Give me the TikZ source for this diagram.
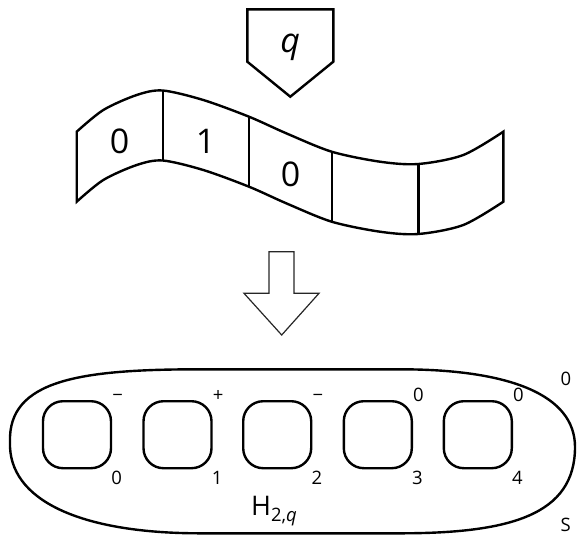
\documentclass[tikz,border=0pt]{standalone}
\usepackage{fontspec}
\setmainfont{Open Sans}
\usetikzlibrary{calc}
\tikzset{
  thick line/.style={line width=2.4pt, line join=miter},
  bigtxt/.style={inner sep=0pt, font=\fontsize{34}{40}\selectfont},
  smalltxt/.style={inner sep=0pt, font=\fontsize{18.5}{22}\selectfont},
  sqbox/.style={draw, line width=2.4pt, minimum width=68pt, minimum height=67pt, rounded corners=20pt, inner sep=0pt},
  bigarrow/.style={draw=black!85, line width=1.2pt, line join=miter}
}
\begin{document}
\begin{tikzpicture}[x=1pt,y=-1pt]
\useasboundingbox (0,0) rectangle (577,536);
% head pentagon
\draw[thick line] (247.3,9.3) -- (333.3,9.3) -- (333.3,61.7) -- (290.3,96.7) -- (247.3,61.7) -- cycle;
\node[bigtxt] (q) at (290.3,47.5) {\itshape q};
% tape
\draw[thick line] plot[smooth] coordinates {(76.7,131.7) (103.3,110) (136.7,95) (162.7,90.5) (203.3,100) (249,116.7) (286.7,133.5) (331.7,151.7) (380,161.7) (418.3,164) (463.3,155) (503.3,131.7)}
  -- plot[smooth] coordinates {(503.3,201.7) (463.3,225) (418.3,234) (380,231.7) (331.7,221.7) (286.7,203.5) (249,186.7) (203.3,170) (162.7,160.5) (136.7,165) (103.3,180) (76.7,201.7)} -- cycle;
\draw[thick line] (162.7,90.5) -- ++(0,70);
\draw[thick line] (249,116.7) -- ++(0,70);
\draw[thick line] (331.7,151.7) -- ++(0,70);
\draw[thick line] (418.3,164) -- ++(0,70);
\node[bigtxt] (t0) at (119.5,141) {0};
\node[bigtxt] (t1) at (205.5,141) {1};
\node[bigtxt] (t2) at (290.5,174) {0};
% arrow
\draw[bigarrow] (269,251.7) -- (294,251.7) -- (294,293.3) -- (319,293.3) -- (281.7,335) -- (244,293.3) -- (269,293.3) -- cycle;
% outer shape
\draw[thick line] (10,442) .. controls (8,380) and (80,369.3) .. (200,369.3) -- (400,369.3)
  .. controls (510,369.3) and (575,395) .. (575,447)
  .. controls (575,515) and (510,533.3) .. (400,533.3) -- (200,533.3)
  .. controls (80,533.3) and (8,500) .. (10,442) -- cycle;
% boxes
\foreach \i/\x/\up in {0/77/{−},1/177.5/{+},2/277.2/{−},3/377.8/{0},4/477.8/{0}}{
  \node[sqbox] (s\i) at (\x,434.7) {};
  \node[smalltxt, anchor=base west] (u\i) at ($(s\i.north east)+(0,1.5)$) {\up};
  \node[smalltxt, anchor=base west] (d\i) at ($(s\i.south east)+(-1,14.8)$) {\i};
}
\node[inner sep=0pt, anchor=base west, font=\fontsize{27}{32}\selectfont] (h) at (251,515.5) {H\raisebox{-5.5pt}{\fontsize{18.5}{22}\selectfont 2,\textit{q}}};
\node[smalltxt, anchor=base west] (o0) at (560.5,385.5) {0};
\node[smalltxt, anchor=base west] (oS) at (560.5,531.5) {S};
\end{tikzpicture}
\end{document}
